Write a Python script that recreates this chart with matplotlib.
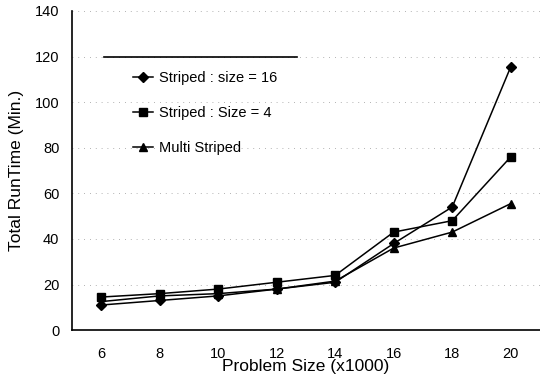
import matplotlib
matplotlib.use('Agg')
import matplotlib.pyplot as plt
from matplotlib.lines import Line2D

plt.rcParams['font.family'] = ['Liberation Sans', 'DejaVu Sans']

problem_size = [6, 8, 10, 12, 14, 16, 18, 20]
striped_16 = [11, 13, 15, 18, 21, 38, 54, 115.5]
striped_4 = [14.5, 16, 18, 21, 24, 43, 48, 76]
multi_striped = [12.5, 15, 16, 18, 21.5, 36, 43, 55.5]

fig = plt.figure(figsize=(5.4, 3.79), dpi=100)
ax = fig.add_axes([0.133, 0.129, 0.867, 0.842])

ax.plot(problem_size, striped_16, color='black', lw=1.1, marker='D', ms=5,
        label='Striped : size = 16')
ax.plot(problem_size, striped_4, color='black', lw=1.1, marker='s', ms=6,
        label='Striped : Size = 4')
ax.plot(problem_size, multi_striped, color='black', lw=1.1, marker='^', ms=6,
        label='Multi Striped')

ax.set_xlim(5, 21)
ax.set_ylim(0, 140)
ax.set_xticks(problem_size)
ax.set_yticks(range(0, 141, 20))
ax.tick_params(axis='y', length=0, labelsize=10.5, pad=9)
ax.tick_params(axis='x', length=0, labelsize=10.5, pad=12)
ax.yaxis.grid(True, linestyle=(0, (1, 6)), color='#999999', lw=0.6)
ax.set_axisbelow(True)

for s in ['top', 'right']:
    ax.spines[s].set_visible(False)
ax.spines['left'].set_linewidth(1.2)
ax.spines['bottom'].set_linewidth(1.2)

ax.set_xlabel('Problem Size (x1000)', fontsize=12.5, labelpad=-1)
ax.set_ylabel('Total RunTime (Min.)', fontsize=12.5, labelpad=8)

leg = ax.legend(loc='upper left', bbox_to_anchor=(0.118, 0.83), frameon=False,
                fontsize=10.5, handlelength=1.4, handletextpad=0.4,
                labelspacing=1.45, borderaxespad=0)
# top border of the legend box, the only edge visible in the scan
ax.add_line(Line2D([0.068, 0.48], [0.857, 0.857], transform=ax.transAxes,
                   color='black', lw=1.2))

fig.savefig('out.png', dpi=100)
